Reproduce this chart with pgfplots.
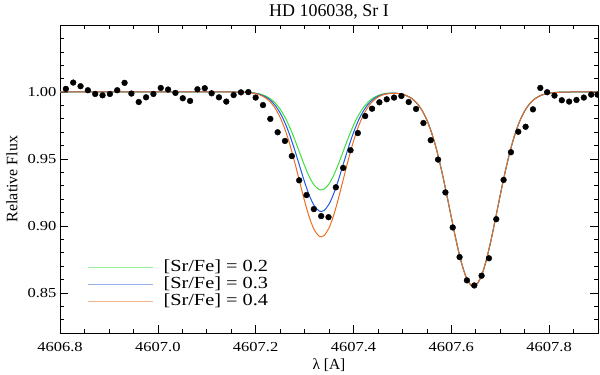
\documentclass[border=0pt]{standalone}
\usepackage{fontspec}
\setmainfont{Liberation Serif}
\newfontfamily\widefont{Liberation Serif}[FakeStretch=1.2]
\usepackage{pgfplots}
\usepackage{pgfplotstable}
\pgfplotsset{compat=1.18}

\definecolor{sgreen}{RGB}{60,225,60}
\definecolor{sblue}{RGB}{30,90,230}
\definecolor{sorange}{RGB}{235,110,35}
\definecolor{lgreen}{RGB}{150,238,150}
\definecolor{lblue}{RGB}{150,180,235}
\definecolor{lorange}{RGB}{245,180,145}

% observed spectrum
\pgfplotstableread{
x f
4606.812 1.0023
4606.827 1.0070
4606.842 1.0043
4606.857 1.0013
4606.872 0.9985
4606.887 0.9975
4606.902 0.9985
4606.917 1.0013
4606.932 1.0068
4606.946 0.9988
4606.961 0.9925
4606.976 0.9960
4606.991 0.9985
4607.006 1.0030
4607.021 1.0018
4607.036 0.9993
4607.051 0.9953
4607.066 0.9933
4607.081 1.0020
4607.096 1.0028
4607.110 0.9990
4607.125 0.9960
4607.140 0.9928
4607.155 0.9977
4607.170 0.9997
4607.185 0.9999
4607.200 0.9958
4607.215 0.9902
4607.230 0.9799
4607.245 0.9699
4607.260 0.9634
4607.274 0.9521
4607.289 0.9340
4607.304 0.9230
4607.319 0.9125
4607.334 0.9073
4607.349 0.9065
4607.364 0.9288
4607.379 0.9433
4607.394 0.9565
4607.409 0.9693
4607.424 0.9820
4607.438 0.9875
4607.453 0.9923
4607.468 0.9945
4607.483 0.9958
4607.498 0.9970
4607.513 0.9925
4607.528 0.9873
4607.543 0.9768
4607.558 0.9640
4607.573 0.9495
4607.588 0.9250
4607.603 0.8988
4607.617 0.8767
4607.632 0.8593
4607.647 0.8555
4607.662 0.8628
4607.677 0.8758
4607.692 0.9050
4607.707 0.9343
4607.722 0.9550
4607.737 0.9703
4607.752 0.9740
4607.767 0.9870
4607.782 1.0030
4607.796 0.9998
4607.811 0.9973
4607.826 0.9938
4607.841 0.9928
4607.856 0.9940
4607.871 0.9958
4607.886 0.9980
4607.899 0.9980
}\obs

% synthetic spectra, [Sr/Fe] = 0.2 / 0.3 / 0.4
\pgfplotstableread{
x g b o
4606.80 1.0 1.0 1.0
4607.00 1.0 1.0 1.0
4607.10 1.0 1.0 1.0
4607.15 1.00000 1.00000 1.00000
4607.16 0.99996 0.99995 0.99994
4607.17 0.99990 0.99988 0.99986
4607.18 0.99980 0.99974 0.99969
4607.19 0.99956 0.99947 0.99935
4607.20 0.99913 0.99894 0.99872
4607.21 0.99836 0.99800 0.99757
4607.22 0.99704 0.99639 0.99563
4607.23 0.99494 0.99382 0.99251
4607.24 0.99174 0.98993 0.98780
4607.25 0.98718 0.98436 0.98105
4607.26 0.98106 0.97690 0.97201
4607.27 0.97337 0.96751 0.96064
4607.28 0.96437 0.95653 0.94733
4607.29 0.95462 0.94463 0.93292
4607.30 0.94498 0.93287 0.91867
4607.31 0.93651 0.92254 0.90615
4607.32 0.93025 0.91492 0.89691
4607.33 0.92709 0.91106 0.89223
4607.334 0.92680 0.91070 0.89180
4607.34 0.92745 0.91149 0.89276
4607.35 0.93129 0.91617 0.89843
4607.36 0.93805 0.92443 0.90843
4607.37 0.94685 0.93516 0.92144
4607.38 0.95659 0.94705 0.93584
4607.39 0.96625 0.95883 0.95012
4607.40 0.97503 0.96954 0.96309
4607.41 0.98242 0.97855 0.97401
4607.42 0.98821 0.98562 0.98258
4607.43 0.99248 0.99083 0.98889
4607.44 0.99543 0.99443 0.99325
4607.45 0.99732 0.99673 0.99605
4607.46 0.99845 0.99813 0.99776
4607.47 0.99903 0.99886 0.99866
4607.48 0.99919 0.99911 0.99901
4607.49 0.99897 0.99893 0.99888
4607.50 0.99831 0.99829 0.99827
4607.51 0.99703 0.99703 0.99703
4607.52 0.99487 0.99487 0.99487
4607.53 0.99148 0.99148 0.99148
4607.54 0.98637 0.98637 0.98637
4607.55 0.97911 0.97911 0.97911
4607.56 0.96930 0.96930 0.96930
4607.57 0.95677 0.95677 0.95677
4607.58 0.94167 0.94167 0.94167
4607.59 0.92455 0.92455 0.92455
4607.60 0.90649 0.90649 0.90649
4607.61 0.88892 0.88892 0.88892
4607.62 0.87355 0.87355 0.87355
4607.63 0.86203 0.86203 0.86203
4607.64 0.85573 0.85573 0.85573
4607.6455 0.85480 0.85480 0.85480
4607.65 0.85542 0.85542 0.85542
4607.66 0.86115 0.86115 0.86115
4607.67 0.87220 0.87220 0.87220
4607.68 0.88725 0.88725 0.88725
4607.69 0.90469 0.90469 0.90469
4607.70 0.92277 0.92277 0.92277
4607.71 0.94003 0.94003 0.94003
4607.72 0.95538 0.95538 0.95538
4607.73 0.96817 0.96817 0.96817
4607.74 0.97825 0.97825 0.97825
4607.75 0.98574 0.98574 0.98574
4607.76 0.99106 0.99106 0.99106
4607.77 0.99461 0.99461 0.99461
4607.78 0.99689 0.99689 0.99689
4607.79 0.99829 0.99829 0.99829
4607.80 0.99909 0.99909 0.99909
4607.82 0.99978 0.99978 0.99978
4607.84 0.99996 0.99996 0.99996
4607.90 1.0 1.0 1.0
}\synth

\begin{document}
\begin{tikzpicture}
\useasboundingbox (-60bp,-42bp) rectangle (540bp,333bp);
\begin{axis}[
    at={(0,0)}, anchor=south west,
    scale only axis,
    width=538bp, height=308bp,
    xmin=4606.8, xmax=4607.9,
    ymin=0.82, ymax=1.05,
    xtick={4606.8,4607.0,4607.2,4607.4,4607.6,4607.8},
    ytick={0.85,0.90,0.95,1.00},
    minor xtick={4606.85,4606.9,4606.95,4607.05,4607.1,4607.15,4607.25,4607.3,4607.35,4607.45,4607.5,4607.55,4607.65,4607.7,4607.75,4607.85},
    minor ytick={0.82,0.83,0.84,0.86,0.87,0.88,0.89,0.91,0.92,0.93,0.94,0.96,0.97,0.98,0.99,1.01,1.02,1.03,1.04},
    tick align=inside,
    major tick length=8bp, minor tick length=4bp,
    every tick/.style={black, line width=0.5bp},
    axis line style={line width=0.6bp},
    xticklabel style={yshift=-5.5bp, /pgf/number format/fixed, /pgf/number format/fixed zerofill,
        /pgf/number format/precision=1, /pgf/number format/1000 sep={}},
    yticklabel style={/pgf/number format/fixed, /pgf/number format/fixed zerofill,
        /pgf/number format/precision=2},
    /pgf/number format/assume math mode=true,
    tick label style={font=\widefont\fontsize{13.8}{15}\selectfont},
    title={HD 106038, Sr I},
    every axis title shift=0pt,
    title style={font=\fontsize{18}{20}\selectfont, inner sep=0pt,
        at={(axis description cs:0.5,1.026)}, anchor=base},
    xlabel={λ [A]},
    xlabel style={font=\fontsize{15.5}{17}\selectfont, at={(axis description cs:0.5,-0.104)}, anchor=center},
    ylabel={Relative Flux},
    ylabel style={font=\fontsize{16}{17}\selectfont, at={(axis description cs:-0.0892,0.5)}, anchor=center},
    clip marker paths=true,
    legend image code/.code={\draw[#1] (0bp,0bp) -- (65bp,0bp);},
    legend style={draw=none, fill=none, inner sep=0pt, at={(0.0502,0.242)}, anchor=north west,
        font=\widefont\fontsize{17}{17}\selectfont, row sep=0bp, column sep=10bp,
        nodes={inner sep=0bp, text height=12.5bp, text depth=4.5bp}},
    legend cell align=left,
]
\addlegendimage{draw=lgreen, line width=1.3bp}
\addlegendentry{[Sr/Fe] = 0.2}
\addlegendimage{draw=lblue, line width=1.3bp}
\addlegendentry{[Sr/Fe] = 0.3}
\addlegendimage{draw=lorange, line width=1.3bp}
\addlegendentry{[Sr/Fe] = 0.4}
\addplot[sgreen, line width=1bp, smooth, forget plot] table[x=x, y=g] {\synth};
\addplot[sblue, line width=1bp, smooth, forget plot] table[x=x, y=b] {\synth};
\addplot[sorange, line width=1bp, smooth, forget plot] table[x=x, y=o] {\synth};
\addplot[only marks, mark=*, mark size=2.9bp, black, forget plot] table[x=x, y=f] {\obs};
\end{axis}
\end{tikzpicture}
\end{document}
